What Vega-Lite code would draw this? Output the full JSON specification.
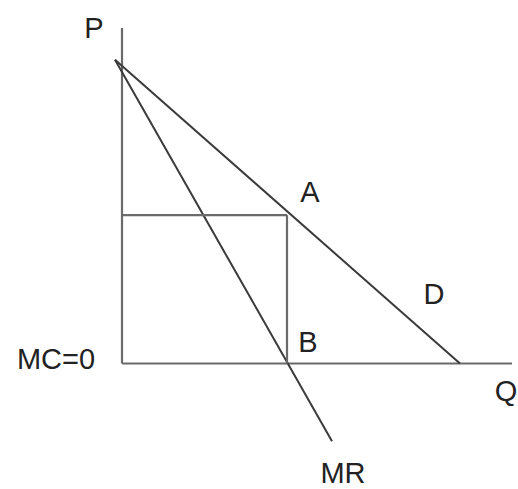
{
  "$schema": "https://vega.github.io/schema/vega-lite/v6.json",
  "width": 518,
  "height": 489,
  "autosize": {"type": "fit", "contains": "padding"},
  "padding": 0,
  "background": "white",
  "config": {"view": {"stroke": null}},
  "datasets": {
    "lines": [
      {"name": "P axis", "q1": 0, "p1": 337, "q2": 0, "p2": 0, "c": "axis"},
      {"name": "Q axis", "q1": 0, "p1": 0, "q2": 390, "p2": 0, "c": "axis"},
      {"name": "D", "q1": -7, "p1": 305, "q2": 338, "p2": 0, "c": "curve"},
      {"name": "MR", "q1": -7, "p1": 305, "q2": 210, "p2": -78, "c": "curve"},
      {"name": "price", "q1": 0, "p1": 149, "q2": 165, "p2": 149, "c": "axis"},
      {"name": "quantity", "q1": 165, "p1": 149, "q2": 165, "p2": 0, "c": "axis"}
    ],
    "labels": [
      {"label": "P", "q": -28, "p": 336},
      {"label": "A", "q": 188, "p": 171},
      {"label": "B", "q": 186, "p": 21},
      {"label": "D", "q": 312, "p": 69},
      {"label": "Q", "q": 384, "p": -29},
      {"label": "MR", "q": 221, "p": -111},
      {"label": "MC=0", "q": -66, "p": 4}
    ]
  },
  "layer": [
    {
      "data": {"name": "lines"},
      "mark": {"type": "rule", "strokeCap": "butt"},
      "encoding": {
        "x": {"field": "q1", "type": "quantitative", "scale": {"domain": [-122, 396], "nice": false, "zero": false}, "axis": null},
        "y": {"field": "p1", "type": "quantitative", "scale": {"domain": [-124, 365], "nice": false, "zero": false}, "axis": null},
        "x2": {"field": "q2"},
        "y2": {"field": "p2"},
        "color": {"field": "c", "type": "nominal", "scale": {"domain": ["axis", "curve"], "range": ["#6a6a6a", "#3a3a3a"]}, "legend": null},
        "strokeWidth": {"field": "c", "type": "nominal", "scale": {"domain": ["axis", "curve"], "range": [2.2, 2]}, "legend": null}
      }
    },
    {
      "data": {"name": "labels"},
      "mark": {"type": "text", "font": "Liberation Sans", "fontSize": 29, "color": "#222", "align": "center", "baseline": "middle"},
      "encoding": {
        "x": {"field": "q", "type": "quantitative"},
        "y": {"field": "p", "type": "quantitative"},
        "text": {"field": "label"}
      }
    }
  ]
}
